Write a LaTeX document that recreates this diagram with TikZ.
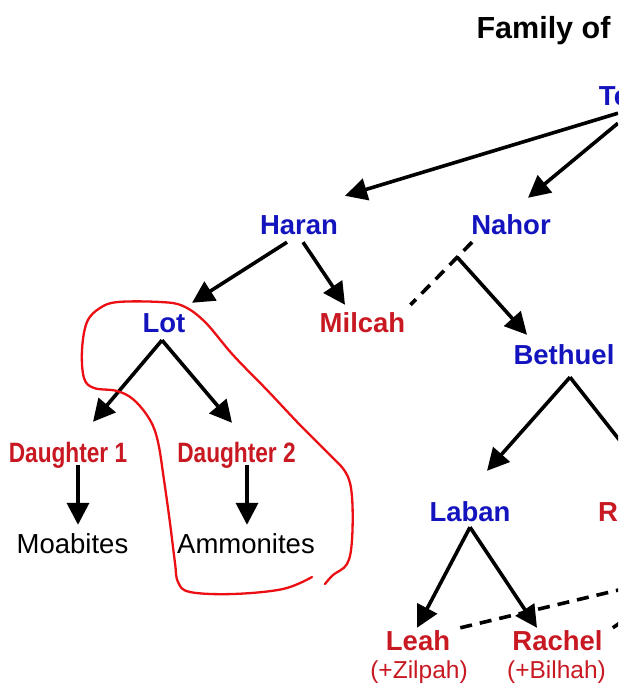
\documentclass[tikz,border=0pt]{standalone}
\usepackage{fontspec}
\setmainfont{Liberation Sans}
\newfontfamily\narrowfont[FakeStretch=0.81]{Liberation Sans}
\usepackage{xcolor}
\usetikzlibrary{arrows.meta, positioning, calc}
\definecolor{manblue}{RGB}{20,20,190}
\definecolor{womanred}{RGB}{200,25,35}
\definecolor{penred}{RGB}{235,15,20}

\begin{document}
\begin{tikzpicture}[
    x=1pt, y=-1pt, on grid,
    person/.style={inner sep=0pt, text height=20pt, text depth=0pt, font=\bfseries\fontsize{27.5}{30}\selectfont},
    male/.style={person, text=manblue},
    female/.style={person, text=womanred},
    daughter/.style={female, font=\narrowfont\bfseries\fontsize{28}{30}\selectfont},
    nation/.style={person, text=black, font=\fontsize{27.5}{30}\selectfont},
    maid/.style={inner sep=0pt, text height=18pt, text depth=0pt, text=womanred, font=\fontsize{24.5}{28}\selectfont},
    heading/.style={inner sep=0pt, text height=22pt, text depth=0pt, font=\bfseries\fontsize{30.5}{34}\selectfont},
    arrow/.style={-{Triangle[length=22pt,width=22pt]}, line width=3.6pt},
    marriage/.style={line width=3.6pt, dash pattern=on 12pt off 8pt},
    ring/.style={penred, line width=2.3pt, line cap=round}
]
\useasboundingbox (0,0) rectangle (618,684);
\clip (0,0) rectangle (618,684);

% Title
\node[heading] (title) at (543.5,28) {Family of};

% People
\node[male, below right=68pt and 70.5pt of title] (terah) {Te};
\node[male, below left=129pt and 103pt of terah] (nahor) {Nahor};
\node[male, left=212pt of nahor] (haran) {Haran};
\node[male, below left=97pt and 135pt of haran] (lot) {Lot};
\node[female, below right=97pt and 63.5pt of haran] (milcah) {Milcah};
\node[male, below right=129pt and 53pt of nahor] (bethuel) {Bethuel};
\node[daughter, below left=130pt and 96pt of lot] (daughter1) {Daughter 1};
\node[daughter, below right=130pt and 72.5pt of lot] (daughter2) {Daughter 2};
\node[nation, below=91pt of daughter1, xshift=4.5pt] (moabites) {Moabites};
\node[nation, below=91pt of daughter2, xshift=9.5pt] (ammonites) {Ammonites};
\node[male, below left=157.5pt and 94pt of bethuel] (laban) {Laban};
\node[female, right=138pt of laban] (rebekah) {R};
\node[female, below left=128.5pt and 52pt of laban] (leah) {Leah};
\node[female, right=139.5pt of leah] (rachel) {Rachel};
\node[maid, below=29pt of leah, xshift=1pt] (zilpah) {(+Zilpah)};
\node[maid, below=29pt of rachel, xshift=-1pt] (bilhah) {(+Bilhah)};

% Marriages
\coordinate (nahorwed) at ($(nahor.south)+(-39,7)$);
\coordinate (milcahwed) at ($(milcah.north east)+(5,-7)$);
\coordinate (wed) at ($(nahorwed)!0.24!(milcahwed)$);
\coordinate (jacob) at ($(leah.north east)+(190,-45)$);
\coordinate (jacobr) at ($(rachel.north east)+(48,-28)$);
\draw[marriage] (nahorwed) -- (milcahwed);
\draw[marriage] ($(leah.north east)+(10,-2)$) -- (jacob);
\draw[marriage] ($(rachel.north east)+(10,-2)$) -- (jacobr);

% Descent
\draw[arrow] ($(terah.south)+(4,7)$) -- ($(haran.north)+(46,-19)$);
\draw[arrow] ($(terah.south)+(4,17)$) -- ($(nahor.north)+(17,-17)$);
\draw[arrow] ($(haran.south)+(-12,7)$) -- ($(lot.north)+(28,-9)$);
\draw[arrow] ($(haran.south)+(4,7)$) -- ($(milcah.north)+(-17.5,-7)$);
\draw[arrow] (wed) -- ($(bethuel.north)+(-37,-9)$);
\draw[arrow] ($(bethuel.south)+(6,13)$) -- ($(laban.north)+(17,-30.5)$);
\draw[arrow] ($(bethuel.south)+(6,13)$) -- ($(rebekah.north)+(38,-27.5)$);
\draw[arrow] ($(lot.south)+(-2,8)$) -- ($(daughter1.north)+(25,-20)$);
\draw[arrow] ($(lot.south)+(-2,8)$) -- ($(daughter2.north)+(-4.5,-19)$);
\draw[arrow] ($(daughter1.south)+(10,3)$) -- ($(moabites.north)+(5.5,-8)$);
\draw[arrow] ($(daughter2.south)+(10.5,3)$) -- ($(ammonites.north)+(1,-8)$);
\draw[arrow] ($(laban.south)+(0,5.5)$) -- ($(leah.north)+(-1,-2)$);
\draw[arrow] ($(laban.south)+(0,5.5)$) -- ($(rachel.north)+(-20.5,-2)$);

% Hand-drawn ring round Lot's line
\draw[ring] plot[smooth, tension=0.6] coordinates {
    (325,584) (333,575) (347,564) (352,540) (352,497) (346,473) (327,452)
    (300,425) (267,390) (233,355) (205,322) (183,306) (160,302) (118,302)
    (100,308) (87,322) (82,350) (84,378) (94,388) (117,391) (134,400)
    (150,420) (158,442) (164,480) (170,523) (175,563) (178,582) (190,592)
    (233,594) (283,589) (312,577)};

\end{tikzpicture}
\end{document}
